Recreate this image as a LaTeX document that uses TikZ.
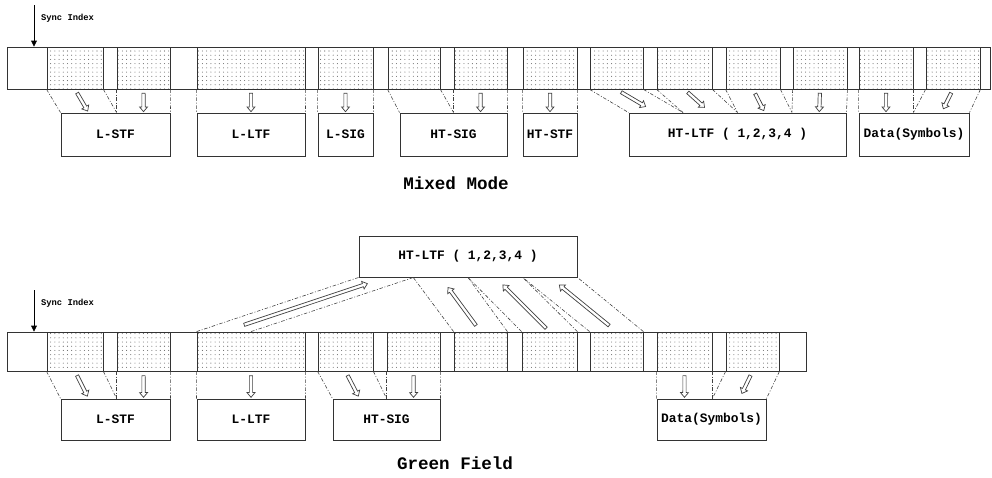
\documentclass[tikz,border=0pt]{standalone}
\usepackage{fontspec}
\setmonofont{Liberation Mono}
\usetikzlibrary{arrows.meta,patterns.meta,fit,calc,shapes.arrows}

\tikzset{
  bar/.style={draw=black!80, line width=0.8pt, inner sep=0pt},
  dotcell/.style={draw=black!80, line width=0.7pt, inner sep=0pt,
    pattern={Dots[distance=3.6pt,radius=0.45pt]}, pattern color=black!60},
  fieldbox/.style={draw=black!80, line width=0.8pt, inner sep=0pt},
  fieldtext/.style={font=\ttfamily\bfseries\fontsize{11}{12}\selectfont},
  guide/.style={black!75, line width=0.5pt, dash pattern=on 3pt off 1.5pt on 0.8pt off 1.5pt},
  blockarrow/.style={single arrow, draw=black!75, fill=white, line width=0.6pt,
    inner sep=1.1pt, single arrow head extend=2pt, single arrow tip angle=80,
    minimum width=0pt, outer sep=0pt},
  sync/.style={line width=0.6pt, -{Triangle[length=5pt,width=5pt]}},
  synclabel/.style={font=\ttfamily\bfseries\fontsize{7.5}{8}\selectfont, anchor=west},
  caption/.style={font=\ttfamily\bfseries\fontsize{15}{16}\selectfont},
}
% hollow arrow between two points, drawn on a part of the way
\newcommand{\flow}[4]{\path let \p1=($(#1)!#3!(#2)$), \p2=($(#1)!#4!(#2)$),
  \n1={atan2(\y2-\y1,\x2-\x1)}, \n2={veclen(\x2-\x1,\y2-\y1)} in
  node[blockarrow, minimum height=\n2, rotate=\n1] at ($(\p1)!.5!(\p2)$) {};}

\begin{document}
\begin{tikzpicture}[x=0.03cm, y=-0.03cm]
\useasboundingbox (0,0) rectangle (992,477);

% ---------- Mixed Mode ----------
\node[bar, fit={(7,47) (990,89)}] (mbar) {};
\foreach \a/\b [count=\i] in {47/103,117/170,197/305,318/373,388/440,454/507,523/577,
    590/643,657/712,726/780,793/847,859/913,926/980}
  \node[dotcell, fit={(\a,47) (\b,89)}] (m\i) {};

\coordinate (msynctop) at (34,5);
\draw[sync] (msynctop) -- (msynctop |- mbar.north);
\node[synclabel] (msync) at (37,18) {Sync Index};

\node[fieldbox, fit={(61,113) (170,156)}, label={[fieldtext]center:L-STF}] (mlstf) {};
\node[fieldbox, fit={(197,113) (305,156)}, label={[fieldtext]center:L-LTF}] (mlltf) {};
\node[fieldbox, fit={(318,113) (373,156)}, label={[fieldtext]center:L-SIG}] (mlsig) {};
\node[fieldbox, fit={(400,113) (507,156)}, label={[fieldtext]center:HT-SIG}] (mhtsig) {};
\node[fieldbox, fit={(523,113) (577,156)}, label={[fieldtext]center:HT-STF}] (mhtstf) {};
\node[fieldbox, fit={(629,113) (846,156)}, label={[fieldtext]center:HT-LTF ( 1,2,3,4 )}] (mhtltf) {};
\node[fieldbox, fit={(859,113) (969,156)}, label={[fieldtext]center:Data(Symbols)}] (mdata) {};

% L-STF
\coordinate (mk1) at (mlstf.north -| m2.west);
\coordinate (mv1) at ($(mk1)!.5!(mlstf.north east)$);
\draw[guide] (m1.south west) -- (mlstf.north west);
\draw[guide] (m1.south east) -- (mk1);
\draw[guide] (m2.south west) -- (mk1);
\draw[guide] (m2.south east) -- (mlstf.north east);
\coordinate (mt1) at ($(mlstf.north west)!.5!(mk1)$);
\flow{m1.south}{mt1}{.12}{.9}
\flow{m2.south}{mv1}{.12}{.92}
% L-LTF, L-SIG
\draw[guide] (m3.south west) -- (mlltf.north west);
\draw[guide] (m3.south east) -- (mlltf.north east);
\flow{m3.south}{mlltf.north}{.12}{.92}
\draw[guide] (m4.south west) -- (mlsig.north west);
\draw[guide] (m4.south east) -- (mlsig.north east);
\flow{m4.south}{mlsig.north}{.12}{.92}
% HT-SIG, HT-STF
\coordinate (mk2) at (mhtsig.north -| m6.west);
\coordinate (mv2) at ($(mk2)!.5!(mhtsig.north east)$);
\draw[guide] (m5.south west) -- (mhtsig.north west);
\draw[guide] (m5.south east) -- (mk2);
\draw[guide] (m6.south west) -- (mk2);
\draw[guide] (m6.south east) -- (mhtsig.north east);
\flow{m6.south}{mv2}{.12}{.92}
\draw[guide] (m7.south west) -- (mhtstf.north west);
\draw[guide] (m7.south east) -- (mhtstf.north east);
\flow{m7.south}{mhtstf.north}{.12}{.92}
% HT-LTF
\foreach \k in {0,...,4}
  \coordinate (mq\k) at ($(mhtltf.north west)!\k/4!(mhtltf.north east)$);
\foreach \c/\s/\e [count=\j from 0] in {8/.1/.72,9/.1/.75,10/.15/.88,11/.12/.92} {
  \pgfmathtruncatemacro{\n}{\j+1}
  \draw[guide] (m\c.south west) -- (mq\j);
  \draw[guide] (m\c.south east) -- (mq\n);
  \coordinate (mt) at ($(mq\j)!.5!(mq\n)$);
  \flow{m\c.south}{mt}{\s}{\e}
}
% Data
\coordinate (mk3) at (mdata.north -| m12.east);
\coordinate (mv3) at ($(mdata.north west)!.5!(mk3)$);
\draw[guide] (m12.south west) -- (mdata.north west);
\draw[guide] (m12.south east) -- (mk3);
\draw[guide] (m13.south west) -- (mk3);
\draw[guide] (m13.south east) -- (mdata.north east);
\flow{m12.south}{mv3}{.12}{.92}
\coordinate (mt3) at ($(mk3)!.5!(mdata.north east)$);
\flow{m13.south}{mt3}{.12}{.8}

\node[caption] (mcap) at (456,183) {Mixed Mode};

% ---------- Green Field ----------
\node[bar, fit={(7,332) (806,371)}] (gbar) {};
\foreach \a/\b [count=\i] in {47/103,117/170,197/305,318/373,387/440,454/507,522/577,
    590/643,657/712,726/779}
  \node[dotcell, fit={(\a,332) (\b,371)}] (g\i) {};

\coordinate (gsynctop) at (34,290);
\draw[sync] (gsynctop) -- (gsynctop |- gbar.north);
\node[synclabel] (gsync) at (37,303) {Sync Index};

\node[fieldbox, fit={(61,399) (170,440)}, label={[fieldtext]center:L-STF}] (glstf) {};
\node[fieldbox, fit={(197,399) (305,440)}, label={[fieldtext]center:L-LTF}] (glltf) {};
\node[fieldbox, fit={(333,399) (440,440)}, label={[fieldtext]center:HT-SIG}] (ghtsig) {};
\node[fieldbox, fit={(657,399) (766,440)}, label={[fieldtext]center:Data(Symbols)}] (gdata) {};
\node[fieldbox, fit={(359,236) (577,277)}, label={[fieldtext]center:HT-LTF ( 1,2,3,4 )}] (ghtltf) {};

% L-STF
\coordinate (gk1) at (glstf.north -| g2.west);
\coordinate (gv1) at ($(gk1)!.5!(glstf.north east)$);
\draw[guide] (g1.south west) -- (glstf.north west);
\draw[guide] (g1.south east) -- (gk1);
\draw[guide] (g2.south west) -- (gk1);
\draw[guide] (g2.south east) -- (glstf.north east);
\coordinate (gt1) at ($(glstf.north west)!.5!(gk1)$);
\flow{g1.south}{gt1}{.12}{.88}
\flow{g2.south}{gv1}{.12}{.92}
% L-LTF
\draw[guide] (g3.south west) -- (glltf.north west);
\draw[guide] (g3.south east) -- (glltf.north east);
\flow{g3.south}{glltf.north}{.12}{.92}
% HT-SIG
\coordinate (gk2) at (ghtsig.north -| g5.west);
\coordinate (gv2) at ($(gk2)!.5!(ghtsig.north east)$);
\draw[guide] (g4.south west) -- (ghtsig.north west);
\draw[guide] (g4.south east) -- (gk2);
\draw[guide] (g5.south west) -- (gk2);
\draw[guide] (g5.south east) -- (ghtsig.north east);
\coordinate (gt2) at ($(ghtsig.north west)!.5!(gk2)$);
\flow{g4.south}{gt2}{.12}{.88}
\flow{g5.south}{gv2}{.12}{.92}
% Data
\coordinate (gk3) at (gdata.north -| g9.east);
\coordinate (gv3) at ($(gdata.north west)!.5!(gk3)$);
\draw[guide] (g9.south west) -- (gdata.north west);
\draw[guide] (g9.south east) -- (gk3);
\draw[guide] (g10.south west) -- (gk3);
\draw[guide] (g10.south east) -- (gdata.north east);
\flow{g9.south}{gv3}{.12}{.92}
\coordinate (gt3) at ($(gk3)!.5!(gdata.north east)$);
\flow{g10.south}{gt3}{.12}{.78}
% HT-LTF, fed upwards
\foreach \k in {0,...,4}
  \coordinate (gq\k) at ($(ghtltf.south west)!\k/4!(ghtltf.south east)$);
\draw[guide] (g3.north west) -- (gq0);
\draw[guide] (g3.north) -- (gq1);
\coordinate (gs0) at ($(g3.north west)!.5!(g3.north)$);
\coordinate (gt4) at ($(gq0)!.5!(gq1)$);
\flow{gs0}{gt4}{.12}{.88}
\foreach \c/\s/\e [count=\j from 1] in {6/.1/.8,7/.05/.85,8/.1/.85} {
  \pgfmathtruncatemacro{\n}{\j+1}
  \draw[guide] (g\c.north west) -- (gq\j);
  \draw[guide] (g\c.north east) -- (gq\n);
  \coordinate (gt) at ($(gq\j)!.5!(gq\n)$);
  \flow{g\c.north}{gt}{\s}{\e}
}

\node[caption] (gcap) at (455,463) {Green Field};
\end{tikzpicture}
\end{document}
